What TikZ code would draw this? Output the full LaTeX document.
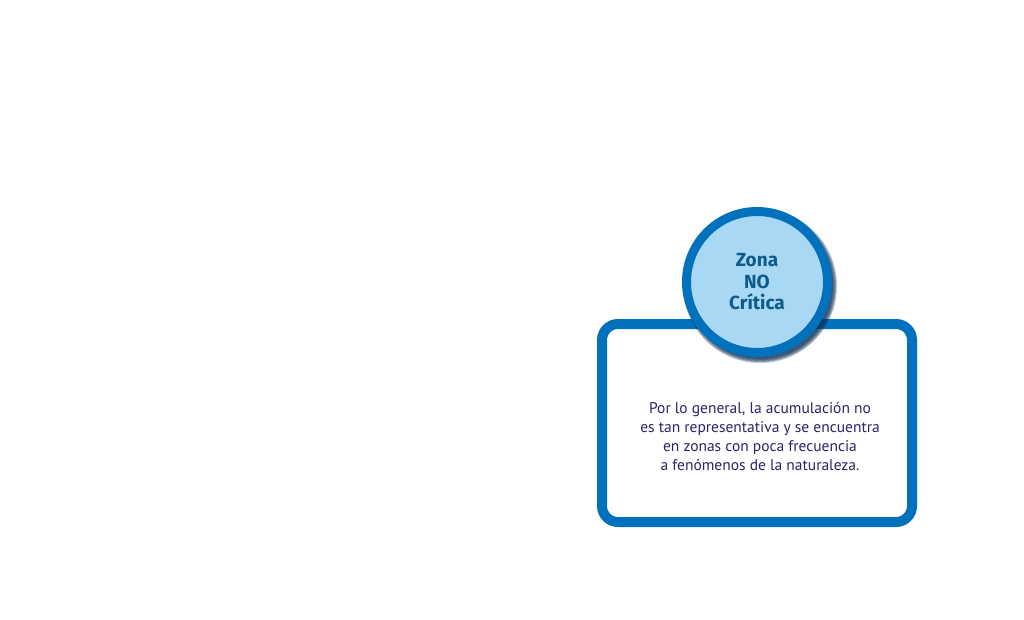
\documentclass[tikz,border=0pt]{standalone}
\usepackage{fontspec}
\setmainfont{PT Sans}
\newfontfamily\titlefont{Fira Sans}
\definecolor{ringblue}{HTML}{0071BC}
\definecolor{lightfill}{HTML}{A8D8F3}
\definecolor{titleblue}{HTML}{0D5B8C}
\definecolor{bodynavy}{HTML}{2A2468}
\definecolor{shadowblue}{HTML}{0E2F55}
\tikzset{
  panel/.style={draw=ringblue, line width=10pt, rounded corners=16pt, fill=white},
  badge/.style={circle, draw=ringblue, line width=9pt, fill=lightfill, minimum size=141pt, inner sep=0pt,
    text=titleblue, font=\titlefont\bfseries\fontsize{19}{21.5}\selectfont, align=center},
  shade/.style={fill=shadowblue, opacity=0.28},
  bodytext/.style={text=bodynavy, font=\fontsize{15.5}{19}\selectfont, align=center},
}
\begin{document}
\begin{tikzpicture}[x=1pt,y=-1pt]
\useasboundingbox[fill=white] (0,0) rectangle (1024,620);
\draw[panel] (602,324) rectangle (912,522);
\node[bodytext] (body) at (760,437) {Por lo general, la acumulación no\\es tan representativa y se encuentra\\en zonas con poca frecuencia\\a fenómenos de la naturaleza.};
\coordinate (sc) at (760,286);
\foreach \r in {77,76,75,74,73}{\fill[shade] (sc) circle (\r);}
\node[badge] (zone) at (757,282) {Zona\\NO\\Crítica};
\end{tikzpicture}
\end{document}
